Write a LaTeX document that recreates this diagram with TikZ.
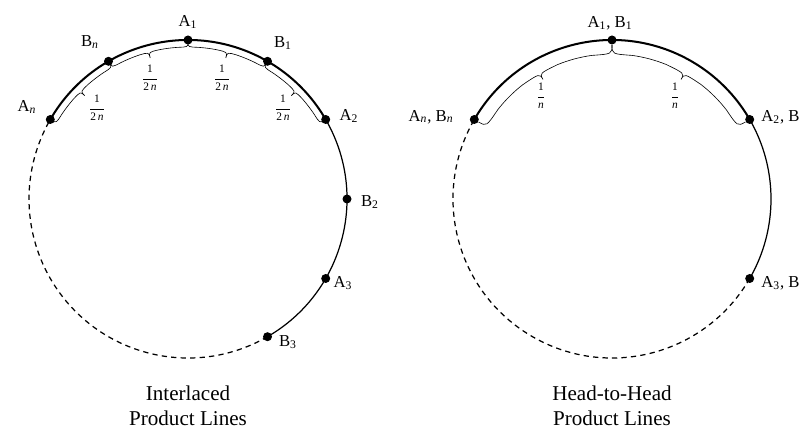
\documentclass[tikz,border=0pt]{standalone}
\usepackage{fontspec}
\setmainfont{Liberation Serif}
\usetikzlibrary{positioning}

% brace that follows an arc: start angle, end angle, line radius, tip radius, end radius, hook width
\newcommand{\arcbrace}[6]{%
  \pgfmathsetmacro{\bmid}{(#1+#2)/2}
  \draw[bracecurve] (#1:#5) .. controls (#1:#3) .. (#1-#6:#3)
    arc[start angle=#1-#6, end angle=\bmid+#6, radius=#3]
    .. controls (\bmid:#3) .. (\bmid:#4)
    .. controls (\bmid:#3) .. (\bmid-#6:#3)
    arc[start angle=\bmid-#6, end angle=#2+#6, radius=#3]
    .. controls (#2:#3) .. (#2:#5);
}

\begin{document}
\begin{tikzpicture}[
  x=0.02cm, y=0.02cm,
  dot/.style={circle, fill=black, inner sep=0pt, minimum size=0.18cm},
  lbl/.style={font=\fontsize{9.5}{11}\selectfont, inner sep=0pt},
  fracl/.style={font=\fontsize{6.5}{7.5}\selectfont, inner sep=0pt},
  caption/.style={font=\fontsize{12}{14.5}\selectfont, align=center, inner sep=0pt},
  heavy/.style={line width=1.15pt},
  light/.style={line width=0.7pt},
  dashedarc/.style={line width=0.7pt, dash pattern=on 3pt off 2.4pt},
  bracecurve/.style={line width=0.35pt}
]

\useasboundingbox (0, 0) rectangle (803, 428);

% ==================== LEFT: Interlaced ====================
\begin{scope}[shift={(188, 229)}]
  % circle in three parts
  \draw[heavy] (150:159) arc[start angle=150, end angle=30, radius=159];
  \draw[light] (30:159) arc[start angle=30, end angle=-60, radius=159];
  \draw[dashedarc] (-60:159) arc[start angle=-60, end angle=-210, radius=159];

  % braces inside the arc
  \arcbrace{150}{120}{152}{146}{157}{4}
  \arcbrace{120}{90}{152}{146}{157}{4}
  \arcbrace{90}{60}{152}{146}{157}{4}
  \arcbrace{60}{30}{152}{146}{157}{4}

  % points on the line
  \node[dot] (lan) at (150:159) {};
  \node[dot] (lbn) at (120:159) {};
  \node[dot] (la1) at (90:159) {};
  \node[dot] (lb1) at (60:159) {};
  \node[dot] (la2) at (30:159) {};
  \node[dot] (lb2) at (0:159) {};
  \node[dot] (la3) at (-30:159) {};
  \node[dot] (lb3) at (-60:159) {};
\end{scope}

\node[lbl] (tla1) at (188, 406) {A\textsubscript{1}};
\node[lbl] (tlbn) at (90, 386) {B\textsubscript{\textit{n}}};
\node[lbl] (tlb1) at (283, 385) {B\textsubscript{1}};
\node[lbl] (tlan) at (27, 321) {A\textsubscript{\textit{n}}};
\node[lbl] (tla2) at (349, 312) {A\textsubscript{2}};
\node[lbl] (tlb2) at (370, 226) {B\textsubscript{2}};
\node[lbl] (tla3) at (343, 145) {A\textsubscript{3}};
\node[lbl] (tlb3) at (288, 86) {B\textsubscript{3}};

% 1/2n gaps
\node[fracl] (fl1) at (97, 320) {$\displaystyle\frac{\textrm{1}}{\textrm{2\,\textit{n}}}$};
\node[fracl] (fl2) at (150, 350) {$\displaystyle\frac{\textrm{1}}{\textrm{2\,\textit{n}}}$};
\node[fracl] (fl3) at (222, 350) {$\displaystyle\frac{\textrm{1}}{\textrm{2\,\textit{n}}}$};
\node[fracl] (fl4) at (283, 320) {$\displaystyle\frac{\textrm{1}}{\textrm{2\,\textit{n}}}$};

\node[caption] (capl) at (188, 22) {Interlaced\\Product Lines};

% ==================== RIGHT: Head-to-Head ====================
\begin{scope}[shift={(612, 229)}]
  \draw[heavy] (150:159) arc[start angle=150, end angle=30, radius=159];
  \draw[light] (30:159) arc[start angle=30, end angle=-30, radius=159];
  \draw[dashedarc] (-30:159) arc[start angle=-30, end angle=-210, radius=159];

  % braces inside the arc
  \arcbrace{150}{90}{145}{138}{154}{8}
  \arcbrace{90}{30}{145}{138}{154}{8}

  \node[dot] (rabn) at (150:159) {};
  \node[dot] (rab1) at (90:159) {};
  \node[dot] (rab2) at (30:159) {};
  \node[dot] (rab3) at (-30:159) {};
\end{scope}

\node[lbl] (trab1) at (610, 405) {A\textsubscript{1}, B\textsubscript{1}};
\node[lbl] (trabn) at (431, 311) {A\textsubscript{\textit{n}}, B\textsubscript{\textit{n}}};
\node[lbl, anchor=west] (trab2) at (761, 311) {A\textsubscript{2}, B};
\node[lbl, anchor=west] (trab3) at (761, 145) {A\textsubscript{3}, B};

% 1/n gaps
\node[fracl] (fr1) at (541, 332) {$\displaystyle\frac{\textrm{1}}{\textit{n}}$};
\node[fracl] (fr2) at (675, 332) {$\displaystyle\frac{\textrm{1}}{\textit{n}}$};

\node[caption] (capr) at (612, 22) {Head-to-Head\\Product Lines};

\end{tikzpicture}
\end{document}
